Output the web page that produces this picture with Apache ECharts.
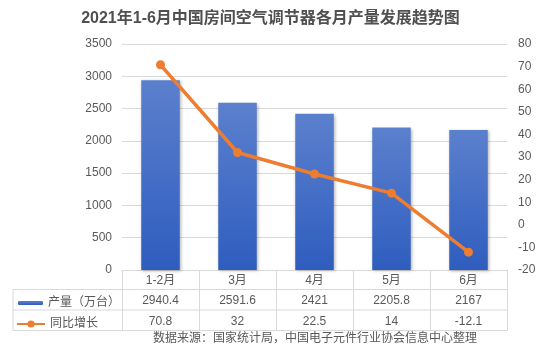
<!DOCTYPE html>
<html>
<head>
<meta charset="utf-8">
<script src="https://cdn.jsdelivr.net/npm/echarts@6/dist/echarts.min.js"></script>
<style>
html,body{margin:0;padding:0;background:#fff;}
#main{width:541px;height:357px;}
</style>
</head>
<body>
<div id="main"></div>
<script>
const categories = ['1-2月', '3月', '4月', '5月', '6月'];
const production = [2940.4, 2591.6, 2421, 2205.8, 2167];
const yoyGrowth = [70.8, 32, 22.5, 14, -12.1];
const leftTicks = { min: 0, max: 3500, interval: 500 };
const rightTicks = { min: -20, max: 80, interval: 10 };
const titleText = '2021年1-6月中国房间空气调节器各月产量发展趋势图';
const sourceText = '数据来源：国家统计局，中国电子元件行业协会信息中心整理';
const seriesNames = ['产量（万台）', '同比增长'];

const FONT = '"Liberation Sans", Arial, "Noto Sans CJK SC", sans-serif';
const chart = echarts.init(document.getElementById('main'), null, { renderer: 'canvas' });

const gridL = 122, gridR = 507, gridT = 44, gridB = 270;
const tableLeft = 13;
const rowLines = [289.5, 310, 330.5];
const colW = (gridR - gridL) / categories.length;
const lineColor = '#d9d9d9';

const graphics = [];
rowLines.forEach(y => {
  graphics.push({ type: 'line', shape: { x1: tableLeft, y1: y, x2: gridR, y2: y }, style: { stroke: lineColor, lineWidth: 1 }, silent: true });
});
graphics.push({ type: 'line', shape: { x1: tableLeft, y1: rowLines[0], x2: tableLeft, y2: rowLines[2] }, style: { stroke: lineColor, lineWidth: 1 }, silent: true });
for (let i = 0; i <= categories.length; i++) {
  const x = Math.round(gridL + colW * i) + 0.5;
  graphics.push({ type: 'line', shape: { x1: x, y1: gridB, x2: x, y2: rowLines[2] }, style: { stroke: lineColor, lineWidth: 1 }, silent: true });
}
graphics.push({
  type: 'text', left: 153, top: 333,
  style: { text: sourceText, fill: '#595959', font: '12px ' + FONT }
});

const option = {
  backgroundColor: '#ffffff',
  animation: false,
  title: {
    text: titleText, left: 'center', top: 6,
    textStyle: { fontSize: 16, fontWeight: 'bold', color: '#505050', fontFamily: FONT }
  },
  legend: [
    {
      data: [seriesNames[0]], left: 18, top: 297, orient: 'vertical', padding: 0,
      itemWidth: 25, itemHeight: 4, itemGap: 4,
      textStyle: { fontSize: 12, color: '#595959', fontFamily: FONT }
    },
    {
      data: [seriesNames[1]], left: 16, top: 318, orient: 'vertical', padding: 0,
      itemWidth: 28, itemHeight: 9, itemGap: 3,
      textStyle: { fontSize: 12, color: '#595959', fontFamily: FONT }
    }
  ],
  grid: { left: gridL, right: 541 - gridR, top: gridT, bottom: 357 - gridB, containLabel: false },
  xAxis: {
    type: 'category',
    data: categories,
    axisLine: { show: true, lineStyle: { color: lineColor } },
    axisTick: { show: false },
    axisLabel: {
      margin: 0.5,
      interval: 0,
      formatter: function (value, idx) {
        return '{h|' + value + '}\n{v|' + production[idx] + '}\n{v|' + yoyGrowth[idx] + '}';
      },
      rich: {
        h: { fontSize: 12, color: '#595959', lineHeight: 20, fontFamily: FONT },
        v: { fontSize: 12, color: '#595959', lineHeight: 20.5, fontFamily: FONT }
      }
    }
  },
  yAxis: [
    {
      type: 'value', min: leftTicks.min, max: leftTicks.max, interval: leftTicks.interval,
      axisLine: { show: false }, axisTick: { show: false },
      axisLabel: { color: '#595959', fontSize: 12, margin: 10, fontFamily: FONT, formatter: v => String(v) },
      splitLine: { lineStyle: { color: lineColor } }
    },
    {
      type: 'value', min: rightTicks.min, max: rightTicks.max, interval: rightTicks.interval,
      axisLine: { show: false }, axisTick: { show: false },
      axisLabel: { color: '#595959', fontSize: 12, margin: 11, fontFamily: FONT, formatter: v => String(v) },
      splitLine: { show: false }
    }
  ],
  series: [
    {
      name: seriesNames[0], type: 'bar', data: production, barWidth: 38.5,
      itemStyle: {
        color: new echarts.graphic.LinearGradient(0, 0, 0, 1, [
          { offset: 0, color: '#5b80cd' },
          { offset: 1, color: '#2f5dbf' }
        ]),
        shadowBlur: 3, shadowColor: 'rgba(0,0,0,0.3)', shadowOffsetX: 1, shadowOffsetY: 1
      }
    },
    {
      name: seriesNames[1], type: 'line', yAxisIndex: 1, data: yoyGrowth,
      symbol: 'circle', symbolSize: 9,
      lineStyle: { color: '#ed7d31', width: 3.5 },
      itemStyle: { color: '#ed7d31' }
    }
  ],
  graphic: graphics
};
chart.setOption(option);
</script>
</body>
</html>
